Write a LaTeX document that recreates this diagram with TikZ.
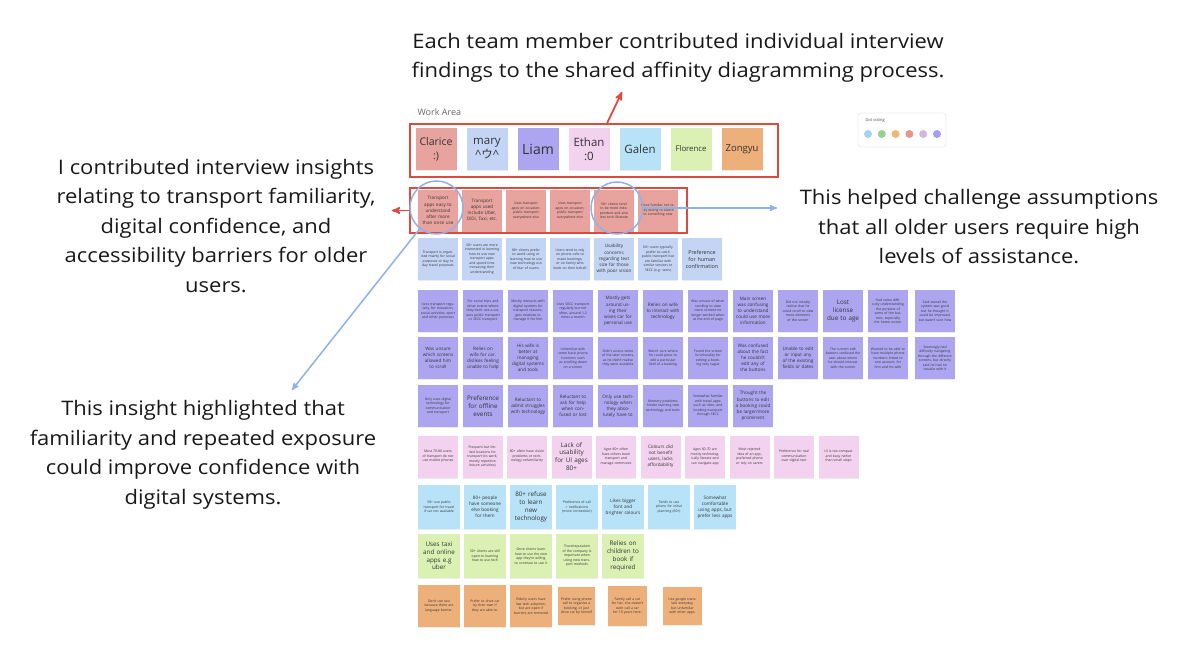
\documentclass[tikz,border=0pt]{standalone}
\usepackage{fontspec}
\setmainfont{Open Sans}
\newfontfamily\remarkfont{Open Sans}[FakeStretch=1.1]
\newfontfamily\cjk{Noto Sans CJK JP}
\usetikzlibrary{arrows,shapes,shadows,positioning}

\definecolor{boxred}{HTML}{DE4B3E}
\definecolor{ringblue}{HTML}{8FB1E9}
\definecolor{notesalmon}{HTML}{E8A39E}
\definecolor{noteblue}{HTML}{C4D4F5}
\definecolor{notepurple}{HTML}{ADA5F0}
\definecolor{notepink}{HTML}{F2D2EE}
\definecolor{notecyan}{HTML}{B7E2F7}
\definecolor{notegreen}{HTML}{DBF0B3}
\definecolor{noteorange}{HTML}{EEB07B}
\definecolor{dotblue}{HTML}{A3D4F3}
\definecolor{dotgreen}{HTML}{93D18E}
\definecolor{dotorange}{HTML}{F1B574}
\definecolor{dotred}{HTML}{E8948F}
\definecolor{dotlilac}{HTML}{D7B3DE}
\definecolor{dotpurple}{HTML}{A59DF0}

\newcommand{\tinytxt}{\fontsize{3.4}{4.5}\selectfont}
\newcommand{\midtxt}{\fontsize{4.6}{6.1}\selectfont}
\newcommand{\bigtxt}{\fontsize{6.3}{7.8}\selectfont}
\newcommand{\remarktxt}{\remarkfont\fontsize{20}{29.5}\selectfont}

\begin{document}
\begin{tikzpicture}[node distance=45pt,>=stealth',auto,x=1pt,y=-1pt]

	\tikzstyle{note}       = [rectangle, minimum width=40, minimum height=42, inner sep=1, text width=35, align=center, text=black!80, font=\tinytxt, drop shadow={opacity=0.15, shadow xshift=0.4pt, shadow yshift=-1pt}]
	\tikzstyle{mid txt}    = [font=\midtxt]
	\tikzstyle{big txt}    = [font=\bigtxt, text width=38]
	\tikzstyle{member}     = [note, minimum width=41, text width=40, inner sep=0]
	\tikzstyle{red box}    = [rectangle, draw=boxred, line width=1.8]
	\tikzstyle{ring}       = [circle, draw=ringblue, line width=1.5, minimum size=53, inner sep=0]
	\tikzstyle{remark}     = [align=center, font=\remarktxt, text=black!90]
	\tikzstyle{red arrow}  = [->, draw=boxred, line width=1.8]
	\tikzstyle{blue arrow} = [->, draw=ringblue, line width=1.5]
	\tikzstyle{vote dot}   = [circle, minimum size=8, inner sep=0]

	\useasboundingbox (0,0) rectangle (1178,650);

	% annotations
	\node [remark] (team text) at (678,58) {Each team member contributed individual interview\\findings to the shared affinity diagramming process.};
	\node [remark] (mine) at (216,226) {I contributed interview insights\\relating to transport familiarity,\\digital confidence, and\\accessibility barriers for older\\users.};
	\node [remark] (challenge) at (979,227) {This helped challenge assumptions\\that all older users require high\\levels of assistance.};
	\node [remark] (exposure) at (203,455) {This insight highlighted that\\familiarity and repeated exposure\\could improve confidence with\\digital systems.};

	\node [anchor=west, font=\fontsize{9}{10}\selectfont, text=black!60] (work area) at (414,112) {Work Area};

	% team members
	\begin{scope}
		\node [member, fill=notesalmon, font=\fontsize{10.5}{14}\selectfont] (clarice) at (436,149) {Clarice\\:)};

		\node [member, fill=noteblue, font=\fontsize{11.5}{14}\selectfont] (mary) [right of=clarice, xshift=6pt] {mary\\\textasciicircum{\cjk ウ}\textasciicircum};

		\node [member, fill=notepurple, font=\fontsize{14}{16}\selectfont] (liam) [right of=mary, xshift=6pt] {Liam};

		\node [member, fill=notepink, font=\fontsize{11.5}{14}\selectfont] (ethan) [right of=liam, xshift=6pt] {Ethan\\:0};

		\node [member, fill=notecyan, font=\fontsize{11.5}{14}\selectfont] (galen) [right of=ethan, xshift=6pt] {Galen};

		\node [member, fill=notegreen, font=\fontsize{7.8}{9}\selectfont] (florence) [right of=galen, xshift=6pt] {Florence};

		\node [member, fill=noteorange, font=\fontsize{9.5}{11}\selectfont] (zongyu) [right of=florence, xshift=6pt] {Zongyu};
	\end{scope}

	% my insights
	\begin{scope}
		\node [note, fill=notesalmon, mid txt] (i1) at (438,210.5) {Transport apps easy to understand after more than once use};

		\node [note, fill=notesalmon, mid txt] (i2) [right of=i1, xshift=-1pt] {Transport apps used include Uber, DiDi, Taxi, etc.};

		\node [note, fill=notesalmon] (i3) [right of=i2, xshift=-1pt] {Uses transport apps on occasion; public transport everywhere else};

		\node [note, fill=notesalmon] (i4) [right of=i3, xshift=-1pt] {Uses transport apps on occasion; public transport everywhere else};

		\node [note, fill=notesalmon] (i5) [right of=i4, xshift=-1pt] {50+ clients tend to be more independent and also less tech illiterate};

		\node [note, fill=notesalmon] (i6) [right of=i5, xshift=-1pt] {Once familiar not really willing to switch to something new};
	\end{scope}

	% blue row
	\begin{scope}
		\node [note, fill=noteblue] (a1) at (438,259) {Transport is organised mainly for social purposes or day to day travel purposes};

		\node [note, fill=noteblue] (a2) [right of=a1, xshift=-1pt] {50+ users are more interested in learning how to use new transport apps and spend time increasing their understanding};

		\node [note, fill=noteblue] (a3) [right of=a2, xshift=-1pt] {80+ clients prefer to avoid using or learning how to use new technology out of fear of scams};

		\node [note, fill=noteblue] (a4) [right of=a3, xshift=-1pt] {Users tend to rely on phone calls to make bookings, or on family who book on their behalf};

		\node [note, fill=noteblue, mid txt] (a5) [right of=a4, xshift=-1pt] {Usability concerns regarding text size for those with poor vision};

		\node [note, fill=noteblue] (a6) [right of=a5, xshift=-1pt] {60+ users typically prefer to catch public transport but are familiar with similar services to SECC (e.g. taxis)};

		\node [note, fill=noteblue, mid txt, font=\fontsize{5.4}{7}\selectfont] (a7) [right of=a6, xshift=-1pt] {Preference for human confirmation};
	\end{scope}

	% purple rows
	\begin{scope}
		\node [note, fill=notepurple] (b1) at (438,311) {Uses transport regularly, for relaxation, social activities, sport and other purposes};

		\node [note, fill=notepurple] (b2) [right of=b1] {For social trips and other events where they don't use a car, uses public transport or SECC transport};

		\node [note, fill=notepurple] (b3) [right of=b2] {Mostly interacts with digital systems for transport reasons; gets relatives to manage it for him};

		\node [note, fill=notepurple] (b4) [right of=b3] {Uses SECC transport regularly but not often, around 1-2 times a month};

		\node [note, fill=notepurple, mid txt] (b5) [right of=b4] {Mostly gets around using their wives car for personal use};

		\node [note, fill=notepurple, mid txt] (b6) [right of=b5] {Relies on wife to interact with technology};

		\node [note, fill=notepurple] (b7) [right of=b6] {Was unsure of when scrolling to view more content no longer worked when at the end of page};

		\node [note, fill=notepurple, mid txt] (b8) [right of=b7] {Main screen was confusing to understand could use more information};

		\node [note, fill=notepurple] (b9) [right of=b8] {Did not initially realise that he could scroll to view more elements of the screen};

		\node [note, fill=notepurple, big txt] (b10) [right of=b9] {Lost\\license\\due to age};

		\node [note, fill=notepurple] (b11) [right of=b10] {Had some difficulty understanding the purpose of some of the buttons, especially the home screen};

		\node [note, fill=notepurple] (b12) [right of=b11, xshift=2pt] {Said overall the system was good but he thought it could be improved, but wasn't sure how};

		\node [note, fill=notepurple, mid txt] (c1) at (438,358) {Was unsure which screens allowed him to scroll};

		\node [note, fill=notepurple, mid txt] (c2) [right of=c1] {Relies on wife for car. dislikes feeling unable to help};

		\node [note, fill=notepurple, mid txt] (c3) [right of=c2] {His wife is better at managing digital systems and tools};

		\node [note, fill=notepurple] (c4) [right of=c3] {Unfamiliar with some basic phone functions such as scrolling down on a screen};

		\node [note, fill=notepurple] (c5) [right of=c4] {Didn't access some of the later screens, as he didn't realise they were available};

		\node [note, fill=notepurple] (c6) [right of=c5] {Wasn't sure where he could press to edit a particular field of a booking};

		\node [note, fill=notepurple] (c7) [right of=c6] {Found the screen functionality for editing a booking very vague};

		\node [note, fill=notepurple, mid txt] (c8) [right of=c7] {Was confused about the fact he couldn't edit any of the buttons};

		\node [note, fill=notepurple, mid txt] (c9) [right of=c8] {Unable to edit or input any of the existing fields or dates};

		\node [note, fill=notepurple] (c10) [right of=c9] {The current edit buttons confused the user about where he should interact with the screen};

		\node [note, fill=notepurple] (c11) [right of=c10] {Wanted to be able to have multiple phone numbers linked to one account, for him and his wife};

		\node [note, fill=notepurple] (c12) [right of=c11, xshift=2pt] {Seemingly had difficulty navigating through the different screens, but directly said he had no trouble with it};

		\node [note, fill=notepurple] (d1) at (438,406) {Only uses digital technology for communication and transport};

		\node [note, fill=notepurple, big txt] (d2) [right of=d1] {Preference\\for offline\\events};

		\node [note, fill=notepurple, mid txt] (d3) [right of=d2] {Reluctant to admit struggles with technology};

		\node [note, fill=notepurple, mid txt] (d4) [right of=d3] {Reluctant to ask for help when confused or lost};

		\node [note, fill=notepurple, mid txt] (d5) [right of=d4] {Only use technology when they absolutely have to};

		\node [note, fill=notepurple] (d6) [right of=d5] {Memory problems hinder learning new technology and tools};

		\node [note, fill=notepurple] (d7) [right of=d6] {Somewhat familiar with travel apps such as Uber, and booking transport through SECC};

		\node [note, fill=notepurple, mid txt] (d8) [right of=d7] {Thought the buttons to edit a booking could be larger/more prominent};
	\end{scope}

	% pink row
	\begin{scope}
		\node [note, fill=notepink] (e1) at (438,456.5) {Most 70-80 users of transport do not use mobile phones};

		\node [note, fill=notepink] (e2) [right of=e1, xshift=-0.5pt] {Frequent but limited locations for transport (to work, mostly repetitive leisure activities)};

		\node [note, fill=notepink] (e3) [right of=e2, xshift=-0.5pt] {80+ often have vision problems or technology unfamiliarity};

		\node [note, fill=notepink, big txt] (e4) [right of=e3, xshift=-0.5pt] {Lack of\\usability\\for UI ages\\80+};

		\node [note, fill=notepink] (e5) [right of=e4, xshift=-0.5pt] {Ages 80+ often have others book transport and manage commutes};

		\node [note, fill=notepink, mid txt] (e6) [right of=e5, xshift=-0.5pt] {Colours did not benefit users, lacks affordability};

		\node [note, fill=notepink] (e7) [right of=e6, xshift=-0.5pt] {Ages 60-70 are mostly technologically literate and can navigate app};

		\node [note, fill=notepink] (e8) [right of=e7, xshift=-0.5pt] {Most rejected idea of an app, preferred phone or rely on carers};

		\node [note, fill=notepink] (e9) [right of=e8, xshift=-0.5pt] {Preference for real communication over digital text};

		\node [note, fill=notepink] (e10) [right of=e9, xshift=-0.5pt] {UI is too compact and busy rather than small steps};
	\end{scope}

	% cyan, green and orange rows
	\begin{scope}
		\node [note, fill=notecyan, minimum width=42, minimum height=44] (f1) at (439,507) {50+ use public transport for travel if car not available};

		\node [note, fill=notecyan, minimum width=42, minimum height=44, mid txt] (f2) [right of=f1, xshift=1pt] {80+ people have someone else booking for them};

		\node [note, fill=notecyan, minimum width=42, minimum height=44, big txt] (f3) [right of=f2, xshift=1pt] {80+ refuse\\to learn\\new\\technology};

		\node [note, fill=notecyan, minimum width=42, minimum height=44] (f4) [right of=f3, xshift=1pt] {Preference of call > notifications (more connection)};

		\node [note, fill=notecyan, minimum width=42, minimum height=44, mid txt] (f5) [right of=f4, xshift=1pt] {Likes bigger font and brighter colours};

		\node [note, fill=notecyan, minimum width=42, minimum height=44] (f6) [right of=f5, xshift=1pt] {Tends to use phone for initial planning (60+)};

		\node [note, fill=notecyan, minimum width=42, minimum height=44, mid txt] (f7) [right of=f6, xshift=1pt] {Somewhat comfortable using apps, but prefer less apps};

		\node [note, fill=notegreen, minimum width=42, minimum height=44, big txt] (g1) at (439,556) {Uses taxi\\and online\\apps e.g\\uber};

		\node [note, fill=notegreen, minimum width=42, minimum height=44] (g2) [right of=g1, xshift=1pt] {50+ clients are still open to learning how to use tech};

		\node [note, fill=notegreen, minimum width=42, minimum height=44] (g3) [right of=g2, xshift=1pt] {Once clients learn how to use the new app they're willing to continue to use it};

		\node [note, fill=notegreen, minimum width=42, minimum height=44] (g4) [right of=g3, xshift=1pt] {Trust/reputation of the company is important when using new transport methods};

		\node [note, fill=notegreen, minimum width=42, minimum height=44, big txt] (g5) [right of=g4, xshift=1pt] {Relies on\\children to\\book if\\required};

		\node [note, fill=noteorange, minimum width=42] (h1) at (439,606) {Don't use taxi because there are language barrier.};

		\node [note, fill=noteorange, minimum width=42] (h2) [right of=h1, xshift=1pt] {Prefer to drive car by their own if they are able to.};

		\node [note, fill=noteorange, minimum width=42] (h3) [right of=h2, xshift=1pt] {Elderly users have low tech adoption, but are open if barriers are removed};

		\node [note, fill=noteorange, minimum width=37, minimum height=38, text width=33] (h4) [right of=h3, xshift=0.5pt] {Prefer using phone call to organise a booking, or just drive car by herself};

		\node [note, fill=noteorange, minimum width=39, minimum height=40, text width=34] (h5) [right of=h4, xshift=6pt] {Family call a car for her, she doesn't even call a car for 10 years here.};

		\node [note, fill=noteorange, minimum width=39, minimum height=38, text width=34] (h6) [right of=h5, xshift=10pt] {Use google translate everyday, but unfamiliar with other apps.};
	\end{scope}

	% dot voting
	\node [draw=black!8, rounded corners=3, minimum width=88, minimum height=34, line width=0.8] (voting) at (902,130) {};
	\node [anchor=west, font=\fontsize{4}{5}\selectfont, text=black!70] (voting label) at (862,121) {Dot voting};
	\node [vote dot, fill=dotblue] (dot1) at (868,134) {};
	\node [vote dot, fill=dotgreen] (dot2) [right of=dot1, node distance=13.8pt] {};
	\node [vote dot, fill=dotorange] (dot3) [right of=dot2, node distance=13.8pt] {};
	\node [vote dot, fill=dotred] (dot4) [right of=dot3, node distance=13.8pt] {};
	\node [vote dot, fill=dotlilac] (dot5) [right of=dot4, node distance=13.8pt] {};
	\node [vote dot, fill=dotpurple] (dot6) [right of=dot5, node distance=13.8pt] {};

	% frames, rings and arrows
	\node [red box, minimum width=368, minimum height=53] (team) at (594,150.5) {};
	\node [red box, minimum width=277, minimum height=45] (insights) at (548.5,210.5) {};

	\node [ring] (ring1) at (436.5,207.5) {};
	\node [ring, minimum size=52] (ring2) at (617,208) {};

	\coordinate (team tip) at (622,92);
	\coordinate (left tip) at (392,210.5);
	\coordinate (right tip) at (777,208);
	\coordinate (down tip) at (292,390);

	\draw [red arrow] (team) -- (team tip);
	\draw [red arrow] (insights) -- (left tip);
	\draw [blue arrow] (ring2) -- (right tip);
	\draw [blue arrow] (ring1) -- (down tip);
\end{tikzpicture}
\end{document}
